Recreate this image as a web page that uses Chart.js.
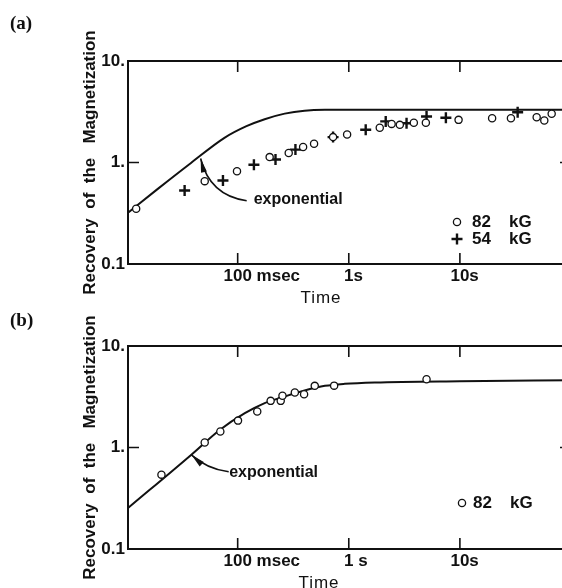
<!DOCTYPE html>
<html>
<head>
<meta charset="utf-8">
<script src="https://cdn.jsdelivr.net/npm/chart.js@4.4.1/dist/chart.umd.min.js"></script>
<style>
  html, body { margin: 0; padding: 0; background: #fff; overflow: hidden; width: 562px; height: 588px; }
  canvas { position: absolute; left: 0; }
  #panelA { top: 0; }
  #panelB { top: 290px; }
</style>
</head>
<body>
<canvas id="panelA" width="590" height="310"></canvas>
<canvas id="panelB" width="590" height="298"></canvas>
<script>
// axes (time in seconds, recovery in arbitrary units)
const timeMin = 0.0103, timeMax = 100;
const magMin = 0.1, magMax = 10;
const timeTicks = [0.1, 1, 10];
const timeTickLabelsA = ['100 msec', '1s', '10s'];
const timeTickLabelsB = ['100 msec', '1 s', '10s'];
const magTicks = [0.1, 1, 10];
const magTickLabels = ['0.1', '1.', '10.'];
const yTitle = 'Recovery  of  the   Magnetization';

// (a) exponential curve
const curveATime = [0.0103, 0.0191, 0.038, 0.076, 0.12, 0.175, 0.265, 0.40, 0.61, 1.0, 10, 100];
const curveAMag  = [0.32, 0.55, 0.99, 1.75, 2.28, 2.67, 3.03, 3.24, 3.3, 3.3, 3.3, 3.3];
// (a) 82 kG (circles)
const a82Time = [0.0122, 0.0505, 0.0986, 0.194, 0.288, 0.388, 0.487, 0.722, 0.966, 1.90, 2.43, 2.88, 3.85, 4.94, 9.73, 19.5, 28.8, 49.1, 57.5, 67.0];
const a82Mag  = [0.35, 0.655, 0.82, 1.13, 1.24, 1.42, 1.53, 1.78, 1.89, 2.20, 2.40, 2.35, 2.46, 2.46, 2.63, 2.73, 2.73, 2.79, 2.59, 3.02];
// (a) 54 kG (crosses)
const a54Time = [0.0333, 0.0737, 0.140, 0.219, 0.331, 0.722, 1.42, 2.15, 3.31, 5.01, 7.48, 33.1];
const a54Mag  = [0.53, 0.665, 0.95, 1.07, 1.34, 1.78, 2.10, 2.54, 2.44, 2.84, 2.76, 3.13];

// (b) exponential curve
const curveBTime = [0.0103, 0.0383, 0.0689, 0.116, 0.175, 0.265, 0.40, 0.61, 0.92, 1.72, 10, 100];
const curveBMag  = [0.253, 0.85, 1.49, 2.18, 2.74, 3.18, 3.64, 4.05, 4.24, 4.37, 4.5, 4.6];
// (b) 82 kG (circles)
const b82Time = [0.0206, 0.0505, 0.0698, 0.1007, 0.150, 0.198, 0.244, 0.253, 0.327, 0.396, 0.494, 0.738, 5.01];
const b82Mag  = [0.54, 1.12, 1.44, 1.84, 2.26, 2.88, 2.88, 3.23, 3.48, 3.35, 4.05, 4.07, 4.71];

// "exponential" pointer: tip, control, end  (time, recovery)
const arrowA = [[0.0464, 1.095], [0.056, 0.473], [0.1205, 0.42]];
const labelA = [0.1393, 0.432];
const arrowB = [[0.0383, 0.847], [0.0526, 0.617], [0.083, 0.576]];
const labelB = [0.0838, 0.57];

const INK = '#111';
const SANS = '"Liberation Sans", Arial, sans-serif';

function pairs(ts, ms) {
    return ts.map((t, i) => ({x: t, y: ms[i]}));
}

const curveStyle = {
    showLine: true, borderColor: INK, borderWidth: 2, pointRadius: 0,
    cubicInterpolationMode: 'monotone', order: 3
};
const circleStyle = {
    pointStyle: 'circle', pointRadius: 3.6, pointBorderWidth: 1.3,
    pointBackgroundColor: '#fff', pointBorderColor: INK, showLine: false, order: 1
};
const crossStyle = {
    pointStyle: 'cross', pointRadius: 5.5, pointBorderWidth: 2.4,
    pointBorderColor: INK, showLine: false, order: 2
};

// frame, inward ticks, x labels, pointer and legend
const paper = {
    id: 'paper',
    beforeDatasetsDraw(chart) {
        const {ctx, chartArea: a, scales: {x, y}} = chart;
        ctx.save();
        ctx.strokeStyle = INK;
        ctx.lineWidth = 2;
        ctx.strokeRect(a.left, a.top, a.right - a.left, a.bottom - a.top);
        ctx.lineWidth = 1.6;
        ctx.beginPath();
        timeTicks.forEach(v => {
            const px = x.getPixelForValue(v);
            ctx.moveTo(px, a.top); ctx.lineTo(px, a.top + 11);
            ctx.moveTo(px, a.bottom); ctx.lineTo(px, a.bottom - 11);
        });
        const py = y.getPixelForValue(1);
        ctx.moveTo(a.left, py); ctx.lineTo(a.left + 11, py);
        ctx.moveTo(a.right, py); ctx.lineTo(a.right - 11, py);
        ctx.stroke();
        ctx.restore();
    },
    afterDraw(chart, args, o) {
        const {ctx, chartArea: a, scales: {x, y}} = chart;
        ctx.save();
        ctx.fillStyle = INK;
        ctx.strokeStyle = INK;
        ctx.textBaseline = 'middle';

        // tick labels: the number sits on the tick, the unit trails
        ctx.font = 'bold 17px ' + SANS;
        ctx.textAlign = 'left';
        o.tickLabels.forEach((lab, i) => {
            const num = lab.match(/^[\d.]+/)[0];
            const w = ctx.measureText(num).width;
            ctx.fillText(lab, x.getPixelForValue(timeTicks[i]) - w / 2, a.bottom + 12);
        });

        ctx.font = '17px ' + SANS;
        ctx.letterSpacing = '1px';
        ctx.textAlign = 'center';
        ctx.fillText('Time', a.left + o.titleShift, a.bottom + o.titleGap);
        ctx.letterSpacing = '0px';

        ctx.font = 'bold 19px "Liberation Serif", serif';
        ctx.textAlign = 'left';
        ctx.fillText(o.panel, 10, o.panelY);

        // pointer
        const p = o.arrow.map(([t, m]) => [x.getPixelForValue(t), y.getPixelForValue(m)]);
        ctx.lineWidth = 1.6;
        ctx.beginPath();
        ctx.moveTo(p[0][0], p[0][1]);
        ctx.quadraticCurveTo(p[1][0], p[1][1], p[2][0], p[2][1]);
        ctx.stroke();
        const dx = p[1][0] - p[0][0], dy = p[1][1] - p[0][1];
        const len = Math.hypot(dx, dy), ux = dx / len, uy = dy / len;
        const L = 14, W = 3;
        ctx.beginPath();
        ctx.moveTo(p[0][0], p[0][1]);
        ctx.lineTo(p[0][0] + ux * L - uy * W, p[0][1] + uy * L + ux * W);
        ctx.lineTo(p[0][0] + ux * L + uy * W, p[0][1] + uy * L - ux * W);
        ctx.closePath();
        ctx.fill();

        ctx.font = 'bold 16px ' + SANS;
        ctx.fillText('exponential', x.getPixelForValue(o.label[0]), y.getPixelForValue(o.label[1]));

        // legend from the point datasets
        ctx.font = 'bold 17px ' + SANS;
        o.legend.forEach((di, i) => {
            const ds = chart.data.datasets[di];
            const lx = a.right - o.legendRight, ly = a.bottom - o.legendBottom + i * 17;
            ctx.fillStyle = ds.pointBackgroundColor || INK;
            ctx.strokeStyle = INK;
            ctx.lineWidth = ds.pointBorderWidth;
            Chart.helpers.drawPoint(ctx, {pointStyle: ds.pointStyle, radius: ds.pointRadius, borderWidth: ds.pointBorderWidth, rotation: 0}, lx, ly);
            ctx.fillStyle = INK;
            const parts = ds.label.split(' ');
            ctx.fillText(parts[0], lx + o.legendGap, ly);
            ctx.fillText(parts[1], lx + o.legendGap + 37, ly);
        });
        ctx.restore();
    }
};

function scales(xHeight) {
    return {
        x: {
            type: 'logarithmic', min: timeMin, max: timeMax,
            afterBuildTicks: s => { s.ticks = timeTicks.map(v => ({value: v})); },
            afterFit: s => { s.height = xHeight; },
            ticks: {display: false},
            grid: {display: false, drawTicks: false},
            border: {display: false}
        },
        y: {
            type: 'logarithmic', min: magMin, max: magMax,
            afterBuildTicks: s => { s.ticks = magTicks.map(v => ({value: v})); },
            afterFit: s => { s.width = 128; },
            ticks: {
                autoSkip: false, padding: 3, color: INK,
                font: {family: SANS, size: 17, weight: 'bold'},
                callback: (v, i) => magTickLabels[i]
            },
            grid: {display: false, drawTicks: false},
            border: {display: false},
            title: {
                display: true, text: yTitle, color: INK,
                font: {family: SANS, size: 17, weight: 'bold'},
                padding: {top: 80, bottom: 0}
            }
        }
    };
}

function common(padTop, xHeight, paperOpts) {
    return {
        responsive: false,
        animation: false,
        layout: {padding: {top: padTop, right: 19, left: 0, bottom: 0}},
        scales: scales(xHeight),
        plugins: {legend: {display: false}, tooltip: {enabled: false}, paper: paperOpts}
    };
}

new Chart(document.getElementById('panelA'), {
    type: 'scatter',
    data: {
        datasets: [
            {label: 'exponential', data: pairs(curveATime, curveAMag), ...curveStyle},
            {label: '82 kG', data: pairs(a82Time, a82Mag), ...circleStyle},
            {label: '54 kG', data: pairs(a54Time, a54Mag), ...crossStyle}
        ]
    },
    options: common(61, 46, {
        tickLabels: timeTickLabelsA, titleShift: 193, titleGap: 34.5,
        panel: '(a)', panelY: 24,
        arrow: arrowA, label: labelA,
        legend: [1, 2], legendRight: 114, legendBottom: 42, legendGap: 15
    }),
    plugins: [paper]
});

new Chart(document.getElementById('panelB'), {
    type: 'scatter',
    data: {
        datasets: [
            {label: 'exponential', data: pairs(curveBTime, curveBMag), ...curveStyle},
            {label: '82 kG', data: pairs(b82Time, b82Mag), ...circleStyle}
        ]
    },
    options: common(56, 39, {
        tickLabels: timeTickLabelsB, titleShift: 191, titleGap: 34,
        panel: '(b)', panelY: 31,
        arrow: arrowB, label: labelB,
        legend: [1], legendRight: 109, legendBottom: 46, legendGap: 11
    }),
    plugins: [paper]
});
</script>
</body>
</html>
